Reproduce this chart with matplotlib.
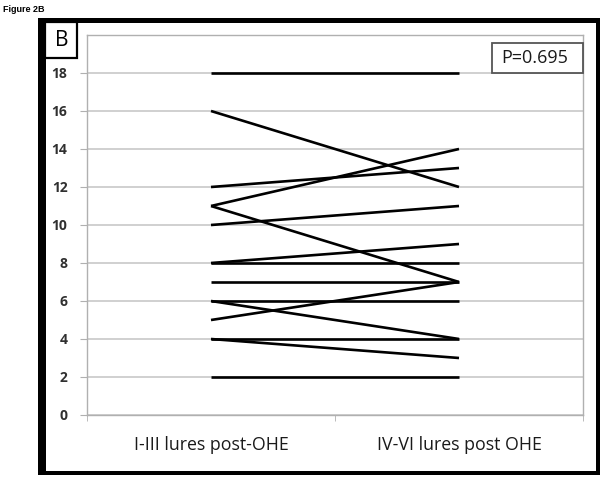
import matplotlib
matplotlib.use("Agg")
import matplotlib.pyplot as plt
from matplotlib.patches import Rectangle

# paired scores, one line per subject
groups = ["I-III lures post-OHE", "IV-VI lures post OHE"]
before = [18, 16, 12, 11, 11, 10, 8, 8, 7, 6, 6, 5, 4, 4, 2]
after = [18, 12, 13, 14, 7, 11, 9, 8, 7, 6, 4, 7, 4, 3, 2]
yticks = [0, 2, 4, 6, 8, 10, 12, 14, 16, 18]
p_text = "P=0.695"

W, H = 604, 480
fig = plt.figure(figsize=(W / 100, H / 100), dpi=100)


def fx(x):
    return x / W


def fy(y):
    return 1 - y / H


def px_rect(x0, y0, x1, y1, **kw):
    r = Rectangle((fx(x0), fy(y1)), fx(x1) - fx(x0), fy(y0) - fy(y1),
                  transform=fig.transFigure, **kw)
    fig.patches.append(r)


# axes placed to match the plot box in the picture
ax = fig.add_axes([fx(87), fy(415), fx(583) - fx(87), fy(35) - fy(415)])

for b, a in zip(before, after):
    ax.plot([0, 1], [b, a], color="black", lw=1.9, solid_capstyle="butt", zorder=3)

ax.set_xlim(-0.5, 1.5)
ax.set_ylim(0, 20)
ax.set_yticks(yticks)
ax.yaxis.grid(True, color="#c4c4c4", lw=1.1)
ax.set_axisbelow(True)
for s in ax.spines.values():
    s.set_color("#b0b0b0")
    s.set_linewidth(1.0)

ax.set_xticks([0, 1])
ax.set_xticklabels(groups, fontsize=12.8, family="Open Sans", color="#1a1a1a")
ax.set_xticks([-0.5, 0.5, 1.5], minor=True)
ax.tick_params(axis="x", which="major", length=0, pad=15)
ax.tick_params(axis="x", which="minor", length=4, color="#b0b0b0")
ax.tick_params(axis="y", length=5, color="#b0b0b0", pad=9, labelsize=10,
               labelcolor="#303030")
for lab in ax.get_yticklabels():
    lab.set_fontweight("bold")
    lab.set_family("Open Sans")

# P value box
px_rect(492, 43, 583, 73, facecolor="white", edgecolor="#555555", lw=1.3, zorder=5)
fig.text(fx(535), fy(58), p_text, ha="center", va="center", fontsize=13,
         family="Open Sans", color="#1a1a1a", zorder=6)

# outer black frame, left side heavier
px_rect(38, 18, 46, 475, facecolor="black", lw=0)
px_rect(38, 18, 600, 23, facecolor="black", lw=0)
px_rect(596, 18, 600, 475, facecolor="black", lw=0)
px_rect(38, 471, 600, 475, facecolor="black", lw=0)

# panel letter box
px_rect(45, 22, 77, 58, facecolor="white", edgecolor="black", lw=1.6, zorder=5)
fig.text(fx(61.5), fy(40.5), "B", ha="center", va="center", fontsize=15,
         family="Open Sans", zorder=6)

fig.text(fx(3), fy(9), "Figure 2B", ha="left", va="center", fontsize=6.5,
         fontweight="bold", family="Liberation Sans")

fig.savefig("out.png", dpi=100)
